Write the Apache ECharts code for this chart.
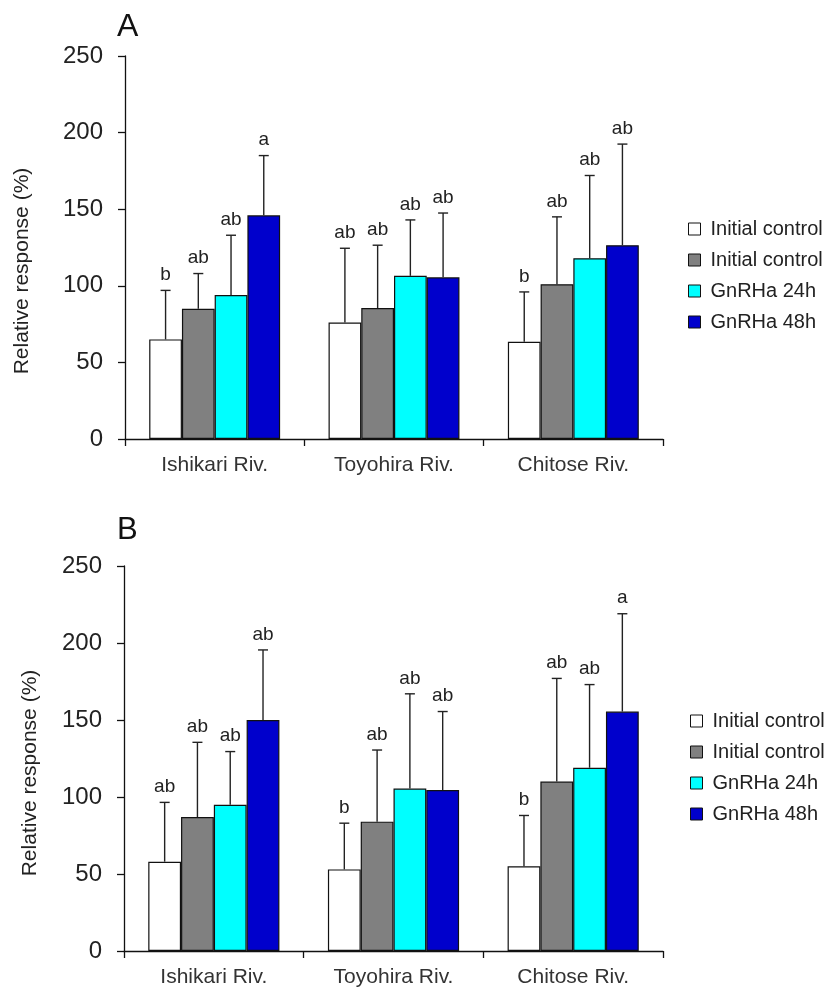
<!DOCTYPE html>
<html>
<head>
<meta charset="utf-8">
<script src="https://cdn.jsdelivr.net/npm/echarts@6/dist/echarts.min.js"></script>
<style>
  html, body { margin: 0; padding: 0; background: #fff; }
  #chart { width: 835px; height: 988px; }
</style>
</head>
<body>
<div id="chart"></div>
<script>
// River sites (x categories)
const categories = ['Ishikari Riv.', 'Toyohira Riv.', 'Chitose Riv.'];
// Legend text for the four treatment groups
const groupLabels = ['Initial control', 'Initial control', 'GnRHa 24h', 'GnRHa 48h'];
const yTicks = [0, 50, 100, 150, 200, 250];

// Panel A: means (%) per group, one value per river
const meanA0 = [65, 76, 63.5];
const meanA1 = [85, 85.5, 101];
const meanA2 = [94, 106.5, 118];
const meanA3 = [146, 105.5, 126.5];
// Panel A: SD (upper error bar length)
const sdA0 = [32, 48.5, 32.5];
const sdA1 = [23, 41, 44];
const sdA2 = [39, 36.5, 54];
const sdA3 = [39, 42, 66];
// Panel A: significance letters
const letA0 = ['b', 'ab', 'b'];
const letA1 = ['ab', 'ab', 'ab'];
const letA2 = ['ab', 'ab', 'ab'];
const letA3 = ['a', 'ab', 'ab'];

// Panel B: means (%)
const meanB0 = [58, 53, 55];
const meanB1 = [87, 84, 110];
const meanB2 = [95, 105.5, 119];
const meanB3 = [150, 104.5, 155.5];
// Panel B: SD
const sdB0 = [38.5, 30, 33];
const sdB1 = [48.5, 46.5, 67];
const sdB2 = [34.5, 61.5, 54];
const sdB3 = [45.5, 51, 63.5];
// Panel B: significance letters
const letB0 = ['ab', 'b', 'b'];
const letB1 = ['ab', 'ab', 'ab'];
const letB2 = ['ab', 'ab', 'ab'];
const letB3 = ['ab', 'ab', 'a'];

// ---- styling ----
const groupColors = ['#ffffff', '#808080', '#00ffff', '#0000cc'];
const FONT = '"Liberation Sans", Arial, sans-serif';
const GAP = 0.27;
const seriesKeys = ['g0', 'g1', 'g2', 'g3'];

const panels = [
  { means: [meanA0, meanA1, meanA2, meanA3], sds: [sdA0, sdA1, sdA2, sdA3], lets: [letA0, letA1, letA2, letA3] },
  { means: [meanB0, meanB1, meanB2, meanB3], sds: [sdB0, sdB1, sdB2, sdB3], lets: [letB0, letB1, letB2, letB3] }
];

const grids = [
  { left: 125, right: 172, top: 56, bottom: 549 },
  { left: 124, right: 172, top: 566, bottom: 36 }
];

function xAxisFor(i) {
  return {
    type: 'category', gridIndex: i, data: categories,
    axisLine: { lineStyle: { color: '#111', width: 1.3 } },
    axisTick: { show: true, length: 7, lineStyle: { color: '#111', width: 1.3 } },
    axisLabel: { color: '#333', fontFamily: FONT, fontSize: 21, margin: 16 }
  };
}
function yAxisFor(i) {
  return {
    type: 'value', gridIndex: i, min: yTicks[0], max: yTicks[yTicks.length - 1], interval: 50,
    splitLine: { show: false },
    axisLine: { show: true, lineStyle: { color: '#111', width: 1.3 } },
    axisTick: { show: true, length: 7, lineStyle: { color: '#111', width: 1.3 } },
    axisLabel: { color: '#222', fontFamily: FONT, fontSize: 24, margin: 22 }
  };
}

const series = [];
panels.forEach((p, pi) => {
  p.means.forEach((m, gi) => {
    series.push({
      name: seriesKeys[gi], type: 'bar', xAxisIndex: pi, yAxisIndex: pi,
      data: m, barGap: '0%', barCategoryGap: (GAP * 100) + '%',
      itemStyle: { color: groupColors[gi], borderColor: '#111', borderWidth: 1.2 },
      silent: true, animation: false
    });
  });
  // error bars + letters
  const errData = [];
  p.means.forEach((m, gi) => {
    m.forEach((v, ci) => errData.push([ci, gi, v, v + p.sds[gi][ci], p.lets[gi][ci]]));
  });
  series.push({
    type: 'custom', xAxisIndex: pi, yAxisIndex: pi, z: 5, silent: true, animation: false,
    data: errData,
    encode: { x: 0, y: [2, 3] },
    renderItem: function (params, api) {
      const ci = api.value(0), gi = api.value(1);
      const band = api.size([1, 0])[0];
      const bw = band * (1 - GAP) / 4;
      const base = api.coord([ci, api.value(2)]);
      const top = api.coord([ci, api.value(3)]);
      const x = base[0] - 2 * bw + (gi + 0.5) * bw;
      const st = { stroke: '#222', lineWidth: 1.4 };
      return {
        type: 'group',
        children: [
          { type: 'line', shape: { x1: x, y1: base[1], x2: x, y2: top[1] }, style: st },
          { type: 'line', shape: { x1: x - 5, y1: top[1], x2: x + 5, y2: top[1] }, style: st },
          { type: 'text', style: {
              text: errData[params.dataIndex][4], x: x, y: top[1] - 6,
              align: 'center', verticalAlign: 'bottom', textAlign: 'center', textVerticalAlign: 'bottom',
              fill: '#222', font: '19px ' + FONT } }
        ]
      };
    }
  });
});

function legendFor(left, top) {
  return {
    orient: 'vertical', left: left, top: top, padding: 0, data: seriesKeys, selectedMode: false,
    icon: 'rect', itemWidth: 12, itemHeight: 12, itemGap: 11,
    itemStyle: { borderColor: '#111', borderWidth: 1 },
    formatter: function (name) { return groupLabels[seriesKeys.indexOf(name)]; },
    textStyle: { color: '#222', fontFamily: FONT, fontSize: 20, padding: [0, 0, 0, 5] }
  };
}

const option = {
  backgroundColor: '#fff',
  animation: false,
  grid: grids,
  xAxis: [xAxisFor(0), xAxisFor(1)],
  yAxis: [yAxisFor(0), yAxisFor(1)],
  legend: [legendFor(688, 219), legendFor(690, 711)],
  series: series,
  graphic: [
    { type: 'text', left: 117, top: 11, style: { text: 'A', fill: '#111', font: '32px ' + FONT } },
    { type: 'text', left: 117, top: 515, style: { text: 'B', fill: '#111', font: '31px ' + FONT } },
    { type: 'text', x: 22, y: 271, rotation: Math.PI / 2,
      style: { text: 'Relative response (%)', fill: '#222', font: '21px ' + FONT, align: 'center', verticalAlign: 'middle' } },
    { type: 'text', x: 30, y: 773, rotation: Math.PI / 2,
      style: { text: 'Relative response (%)', fill: '#222', font: '21px ' + FONT, align: 'center', verticalAlign: 'middle' } }
  ]
};

const chart = echarts.init(document.getElementById('chart'), null, { renderer: 'canvas' });
chart.setOption(option);
</script>
</body>
</html>
